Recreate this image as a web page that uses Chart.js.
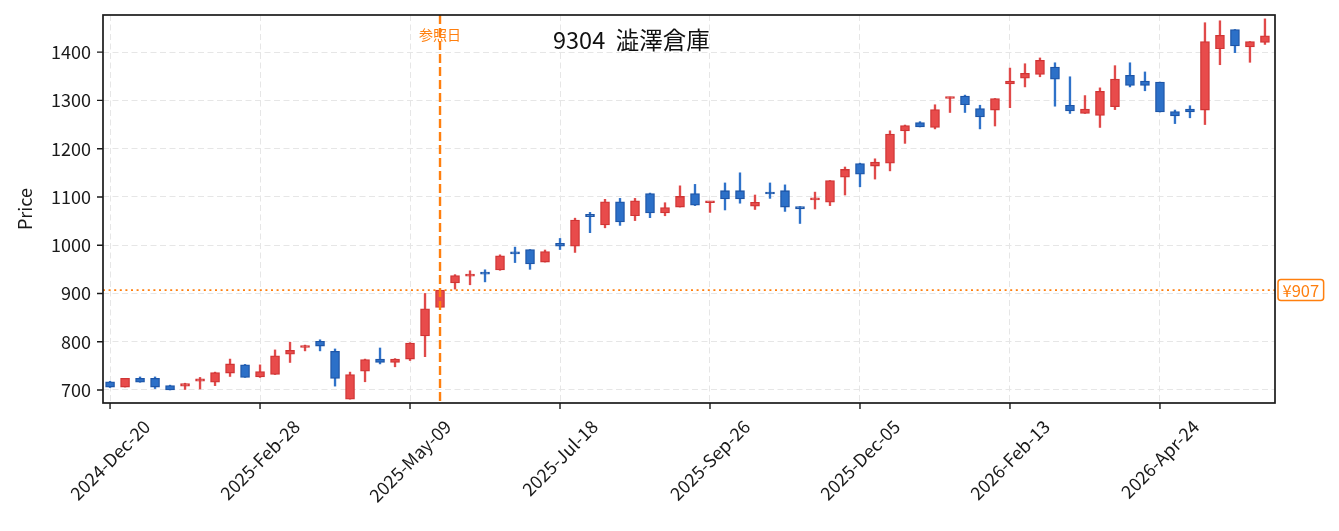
<!DOCTYPE html>
<html><head><meta charset="utf-8">
<script src="https://cdn.jsdelivr.net/npm/chart.js@4.4.1/dist/chart.umd.min.js"></script>
<style>html,body{margin:0;padding:0;background:#fff}#wrap{width:1339px;height:531px;position:relative}</style>
</head><body><div id="wrap"><canvas id="c"></canvas></div>
<script>
const dates = ['2024-Dec-20','2024-Dec-27','2025-Jan-03','2025-Jan-10','2025-Jan-17','2025-Jan-24','2025-Jan-31','2025-Feb-07','2025-Feb-14','2025-Feb-21',
'2025-Feb-28','2025-Mar-07','2025-Mar-14','2025-Mar-21','2025-Mar-28','2025-Apr-04','2025-Apr-11','2025-Apr-18','2025-Apr-25','2025-May-02',
'2025-May-09','2025-May-16','2025-May-23','2025-May-30','2025-Jun-06','2025-Jun-13','2025-Jun-20','2025-Jun-27','2025-Jul-04','2025-Jul-11',
'2025-Jul-18','2025-Jul-25','2025-Aug-01','2025-Aug-08','2025-Aug-15','2025-Aug-22','2025-Aug-29','2025-Sep-05','2025-Sep-12','2025-Sep-19',
'2025-Sep-26','2025-Oct-03','2025-Oct-10','2025-Oct-17','2025-Oct-24','2025-Oct-31','2025-Nov-07','2025-Nov-14','2025-Nov-21','2025-Nov-28',
'2025-Dec-05','2025-Dec-12','2025-Dec-19','2025-Dec-26','2026-Jan-02','2026-Jan-09','2026-Jan-16','2026-Jan-23','2026-Jan-30','2026-Feb-06',
'2026-Feb-13','2026-Feb-20','2026-Feb-27','2026-Mar-06','2026-Mar-13','2026-Mar-20','2026-Mar-27','2026-Apr-03','2026-Apr-10','2026-Apr-17',
'2026-Apr-24','2026-May-01','2026-May-08','2026-May-15','2026-May-22','2026-May-29','2026-Jun-05','2026-Jun-12'];
const opens  = [717,706,724,724,709,708,718,716,735,752, 727,732,774,788,801,780,681,739,764,757, 764,812,871,922,936,942,949,986,991,965,
1004,998,1064,1042,1090,1061,1107,1067,1079,1107, 1088,1113,1113,1081,1110,1113,1080,1094,1089,1141, 1169,1164,1170,1237,1254,1244,1304,1309,1283,1280,
1334,1346,1354,1369,1290,1273,1269,1287,1352,1340, 1338,1277,1282,1280,1407,1447,1411,1420];
const highs  = [718,724,727,727,710,714,726,737,764,753, 752,783,799,793,804,785,737,764,787,765, 798,900,907,939,947,949,980,996,991,990,
1014,1056,1068,1095,1097,1097,1108,1088,1123,1126, 1090,1129,1150,1104,1129,1125,1080,1110,1134,1162, 1170,1179,1237,1249,1256,1291,1307,1311,1290,1304,
1367,1376,1388,1378,1349,1310,1326,1372,1378,1359, 1338,1280,1289,1461,1465,1447,1422,1469];
const lows   = [705,706,716,703,700,701,702,709,728,726, 726,732,757,781,781,708,681,717,754,748, 761,769,871,909,918,924,948,964,950,965,
991,985,1026,1036,1041,1051,1057,1061,1079,1082, 1068,1073,1087,1074,1097,1070,1045,1075,1082,1104, 1121,1137,1154,1211,1245,1241,1275,1275,1241,1247,
1285,1328,1349,1288,1273,1273,1244,1281,1328,1320, 1276,1252,1264,1250,1374,1399,1379,1416];
const closes = [706,724,716,706,700,713,723,736,754,726, 738,771,782,792,791,724,732,763,757,764, 797,868,907,937,939,940,978,982,961,987,
998,1052,1059,1090,1048,1092,1067,1078,1101,1083, 1090,1096,1096,1089,1106,1079,1075,1098,1134,1157, 1147,1172,1230,1248,1245,1281,1307,1291,1266,1304,
1340,1356,1383,1344,1278,1282,1319,1344,1331,1331, 1276,1268,1276,1422,1435,1413,1422,1434];
const xTickIndices = [0,10,20,30,40,50,60,70];
const yTickValues = [700,800,900,1000,1100,1200,1300,1400];
const refIndex = 22;
const refPrice = 907;
const refLabel = '参照日';
const priceLabel = '¥907';
const titleText = '9304  澁澤倉庫';
const yAxisTitle = 'Price';

const FONT = "'Noto Sans CJK JP','Noto Sans',sans-serif";
const TICK_FONT = 18, XTICK_FONT = 18;
const UP_FILL = '#e84b4b', UP_EDGE = '#d03434', UP_WICK = '#e04a4a';
const DN_FILL = '#2c70c8', DN_EDGE = '#1e55a6', DN_WICK = '#2f72c9';
const ORANGE = '#ff7f0e';
const GRID = '#e6e6e6';

const isUp = opens.map((o,i)=>closes[i]>=o);
const bodyData = dates.map((d,i)=>({x:i, y:[opens[i], closes[i]]}));
const wickData = dates.map((d,i)=>({x:i, y:[lows[i], highs[i]]}));

const overlay = {
  id:'overlay',
  afterDatasetsDraw(chart){
    const {ctx, chartArea:a, scales:{x,y}} = chart;
    ctx.save();
    const yp = y.getPixelForValue(refPrice);
    ctx.strokeStyle = ORANGE; ctx.lineWidth = 1.8; ctx.setLineDash([2,3.6]);
    ctx.beginPath(); ctx.moveTo(a.left, yp); ctx.lineTo(a.right, yp); ctx.stroke();
    const xp = x.getPixelForValue(refIndex);
    ctx.lineWidth = 2.4; ctx.setLineDash([9,4]);
    ctx.beginPath(); ctx.moveTo(xp, a.top); ctx.lineTo(xp, a.bottom); ctx.stroke();
    ctx.setLineDash([]);
    ctx.fillStyle = ORANGE; ctx.font = '14px '+FONT; ctx.textAlign='center'; ctx.textBaseline='middle';
    ctx.fillText(refLabel, xp, 35);
    ctx.strokeStyle = '#1a1a1a'; ctx.lineWidth = 1.7;
    ctx.strokeRect(a.left, a.top, a.right-a.left, a.bottom-a.top);
    ctx.lineWidth = 1.4;
    ctx.beginPath();
    yTickValues.forEach(v=>{ const py = y.getPixelForValue(v); ctx.moveTo(a.left-6, py); ctx.lineTo(a.left, py); });
    xTickIndices.forEach(v=>{ const px = x.getPixelForValue(v); ctx.moveTo(px, a.bottom); ctx.lineTo(px, a.bottom+6); });
    ctx.stroke();
    ctx.fillStyle = '#1a1a1a'; ctx.font = XTICK_FONT+'px '+FONT;
    xTickIndices.forEach(v=>{
      const px = x.getPixelForValue(v);
      const t = dates[v];
      const L = ctx.measureText(t).width, h = XTICK_FONT;
      const bh = (L+h)/Math.SQRT2;
      ctx.save(); ctx.translate(px, a.bottom + 14 + bh/2); ctx.rotate(-Math.PI/4);
      ctx.textAlign='center'; ctx.textBaseline='middle'; ctx.fillText(t, 0, 0); ctx.restore();
    });
    ctx.save(); ctx.translate(25, (a.top+a.bottom)/2); ctx.rotate(-Math.PI/2);
    ctx.font = TICK_FONT+'px '+FONT; ctx.textAlign='center'; ctx.textBaseline='middle';
    ctx.fillText(yAxisTitle, 0, 0); ctx.restore();
    ctx.font = '16.5px '+FONT;
    const tw = ctx.measureText(priceLabel).width;
    const bx = a.right+3, bw = tw+9, bh2 = 21, by = yp-bh2/2;
    ctx.fillStyle='#fff'; ctx.strokeStyle=ORANGE; ctx.lineWidth=1.5;
    ctx.beginPath(); ctx.roundRect(bx, by, bw, bh2, 3); ctx.fill(); ctx.stroke();
    ctx.fillStyle=ORANGE; ctx.textAlign='left'; ctx.textBaseline='middle';
    ctx.fillText(priceLabel, bx+4.5, yp+1);
    ctx.fillStyle='#111'; ctx.font='23.5px '+FONT; ctx.textAlign='left';
    ctx.fillText(titleText, 553, 40);
    ctx.restore();
  }
};

new Chart(document.getElementById('c'), {
  type:'bar',
  data:{datasets:[
    {label:'body', data:bodyData, grouped:false, barThickness:9,
     backgroundColor:isUp.map(u=>u?UP_FILL:DN_FILL), borderColor:isUp.map(u=>u?UP_EDGE:DN_EDGE),
     borderWidth:1.3, borderSkipped:false, minBarLength:2},
    {label:'wick', data:wickData, grouped:false, barThickness:1.7,
     backgroundColor:isUp.map(u=>u?UP_WICK:DN_WICK), borderWidth:0}
  ]},
  options:{
    responsive:true, maintainAspectRatio:false, animation:false,
    layout:{padding:{left:0,top:15,right:64,bottom:0}},
    plugins:{legend:{display:false}, tooltip:{enabled:false}},
    scales:{
      x:{type:'linear', min:-0.47, max:77.67, offset:false,
        afterBuildTicks(s){ s.ticks = xTickIndices.map(v=>({value:v})); },
        afterFit(s){ s.height = 128; s.paddingLeft = 0; s.paddingRight = 0; },
        ticks:{display:false},
        grid:{color:GRID, lineWidth:1, drawTicks:false, offset:false},
        border:{display:false, dash:[6,3.5]}},
      y:{type:'linear', min:673, max:1477,
        afterBuildTicks(s){ s.ticks = yTickValues.map(v=>({value:v})); },
        afterFit(s){ s.width = 103; s.paddingTop = 0; s.paddingBottom = 0; },
        ticks:{color:'#1a1a1a', font:{family:FONT, size:TICK_FONT}, padding:12, callback:(v)=>String(v)},
        grid:{color:GRID, lineWidth:1, drawTicks:false},
        border:{display:false, dash:[6,3.5]}}
    }
  },
  plugins:[overlay]
});
</script></body></html>
